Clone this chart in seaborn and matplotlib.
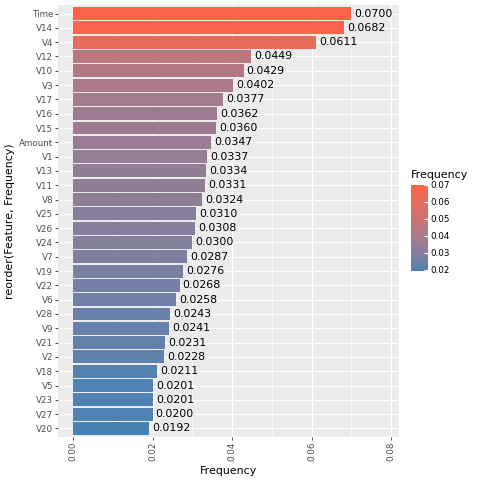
import numpy as np
import pandas as pd
import seaborn as sns
import matplotlib
matplotlib.use("Agg")
import matplotlib.pyplot as plt
from matplotlib.colors import ListedColormap, Normalize
from matplotlib.colorbar import ColorbarBase
from matplotlib.ticker import MultipleLocator

# feature importances, highest first
features = ["Time", "V14", "V4", "V12", "V10", "V3", "V17", "V16", "V15", "Amount",
            "V1", "V13", "V11", "V8", "V25", "V26", "V24", "V7", "V19", "V22",
            "V6", "V28", "V9", "V21", "V2", "V18", "V5", "V23", "V27", "V20"]
freq = [0.0700, 0.0682, 0.0611, 0.0449, 0.0429, 0.0402, 0.0377, 0.0362, 0.0360, 0.0347,
        0.0337, 0.0334, 0.0331, 0.0324, 0.0310, 0.0308, 0.0300, 0.0287, 0.0276, 0.0268,
        0.0258, 0.0243, 0.0241, 0.0231, 0.0228, 0.0211, 0.0201, 0.0201, 0.0200, 0.0192]

df = pd.DataFrame({"Feature": features, "Frequency": freq})


# gradient interpolated in Lab space, like ggplot's scale_fill_gradient
def srgb_to_lab(rgb):
    c = np.array(rgb, dtype=float)
    c = np.where(c <= 0.04045, c / 12.92, ((c + 0.055) / 1.055) ** 2.4)
    m = np.array([[0.4124, 0.3576, 0.1805],
                  [0.2126, 0.7152, 0.0722],
                  [0.0193, 0.1192, 0.9505]])
    xyz = m @ c / np.array([0.95047, 1.0, 1.08883])
    f = np.where(xyz > 0.008856, np.cbrt(xyz), 7.787 * xyz + 16 / 116)
    return np.array([116 * f[1] - 16, 500 * (f[0] - f[1]), 200 * (f[1] - f[2])])


def lab_to_srgb(lab):
    fy = (lab[0] + 16) / 116
    fx = fy + lab[1] / 500
    fz = fy - lab[2] / 200
    f = np.array([fx, fy, fz])
    xyz = np.where(f ** 3 > 0.008856, f ** 3, (f - 16 / 116) / 7.787)
    xyz = xyz * np.array([0.95047, 1.0, 1.08883])
    m = np.array([[3.2406, -1.5372, -0.4986],
                  [-0.9689, 1.8758, 0.0415],
                  [0.0557, -0.2040, 1.0570]])
    c = m @ xyz
    c = np.where(c <= 0.0031308, 12.92 * c, 1.055 * np.clip(c, 0, None) ** (1 / 2.4) - 0.055)
    return np.clip(c, 0, 1)


low = srgb_to_lab([70 / 255, 130 / 255, 180 / 255])    # steelblue
high = srgb_to_lab([255 / 255, 99 / 255, 71 / 255])    # tomato
cmap = ListedColormap([lab_to_srgb(low + (high - low) * t) for t in np.linspace(0, 1, 256)])
norm = Normalize(vmin=min(freq), vmax=max(freq))
colors = [cmap(norm(v)) for v in freq]

fig = plt.figure(figsize=(4.8, 4.8), dpi=100)
ax = fig.add_axes([58/480, 43/480, 341/480, 432/480])
ax.set_facecolor("#EBEBEB")

sns.barplot(data=df, x="Frequency", y="Feature", hue="Feature", palette=colors,
            order=features, width=0.9, legend=False, ax=ax, saturation=1, zorder=3)

for i, v in enumerate(freq):
    ax.annotate(f"{v:.4f}", (v, i), xytext=(2.3, 0), textcoords="offset points",
                va="center", ha="left", fontsize=7.9, color="black", zorder=4)

ax.set_xlim(-0.00377, 0.0820)
ax.set_ylim(len(features) - 0.4, -0.6)
ax.xaxis.set_major_locator(MultipleLocator(0.02))
ax.xaxis.set_minor_locator(MultipleLocator(0.01))
ax.set_xticks([0.0, 0.02, 0.04, 0.06, 0.08])
ax.set_xticklabels(["0.00", "0.02", "0.04", "0.06", "0.08"], rotation=90)
ax.grid(True, which="major", color="white", linewidth=0.8, zorder=0)
ax.grid(True, which="minor", axis="x", color="white", linewidth=0.4, zorder=0)
ax.set_axisbelow(True)
for s in ax.spines.values():
    s.set_visible(False)
ax.tick_params(axis="both", which="major", length=2, width=0.6, color="#333333",
               labelsize=6.3, labelcolor="#4D4D4D", pad=1.5)
ax.tick_params(axis="x", which="minor", length=0)
ax.set_xlabel("Frequency", fontsize=7.9, labelpad=3)
ax.set_ylabel("reorder(Feature, Frequency)", fontsize=7.9, labelpad=3)

# colour bar legend
cax = fig.add_axes([411/480, (480-271)/480, 17/480, 86/480])
cb = ColorbarBase(cax, cmap=cmap, norm=norm, orientation="vertical")
cb.set_ticks([0.02, 0.03, 0.04, 0.05, 0.06, 0.07])
cb.set_ticklabels(["0.02", "0.03", "0.04", "0.05", "0.06", "0.07"])
cb.outline.set_visible(False)
cax.tick_params(length=3, color="white", direction="in", labelsize=6.3,
                labelcolor="black", pad=2)
cax.set_title("Frequency", fontsize=7.9, loc="left", pad=5)

fig.savefig("out.png", dpi=100)
